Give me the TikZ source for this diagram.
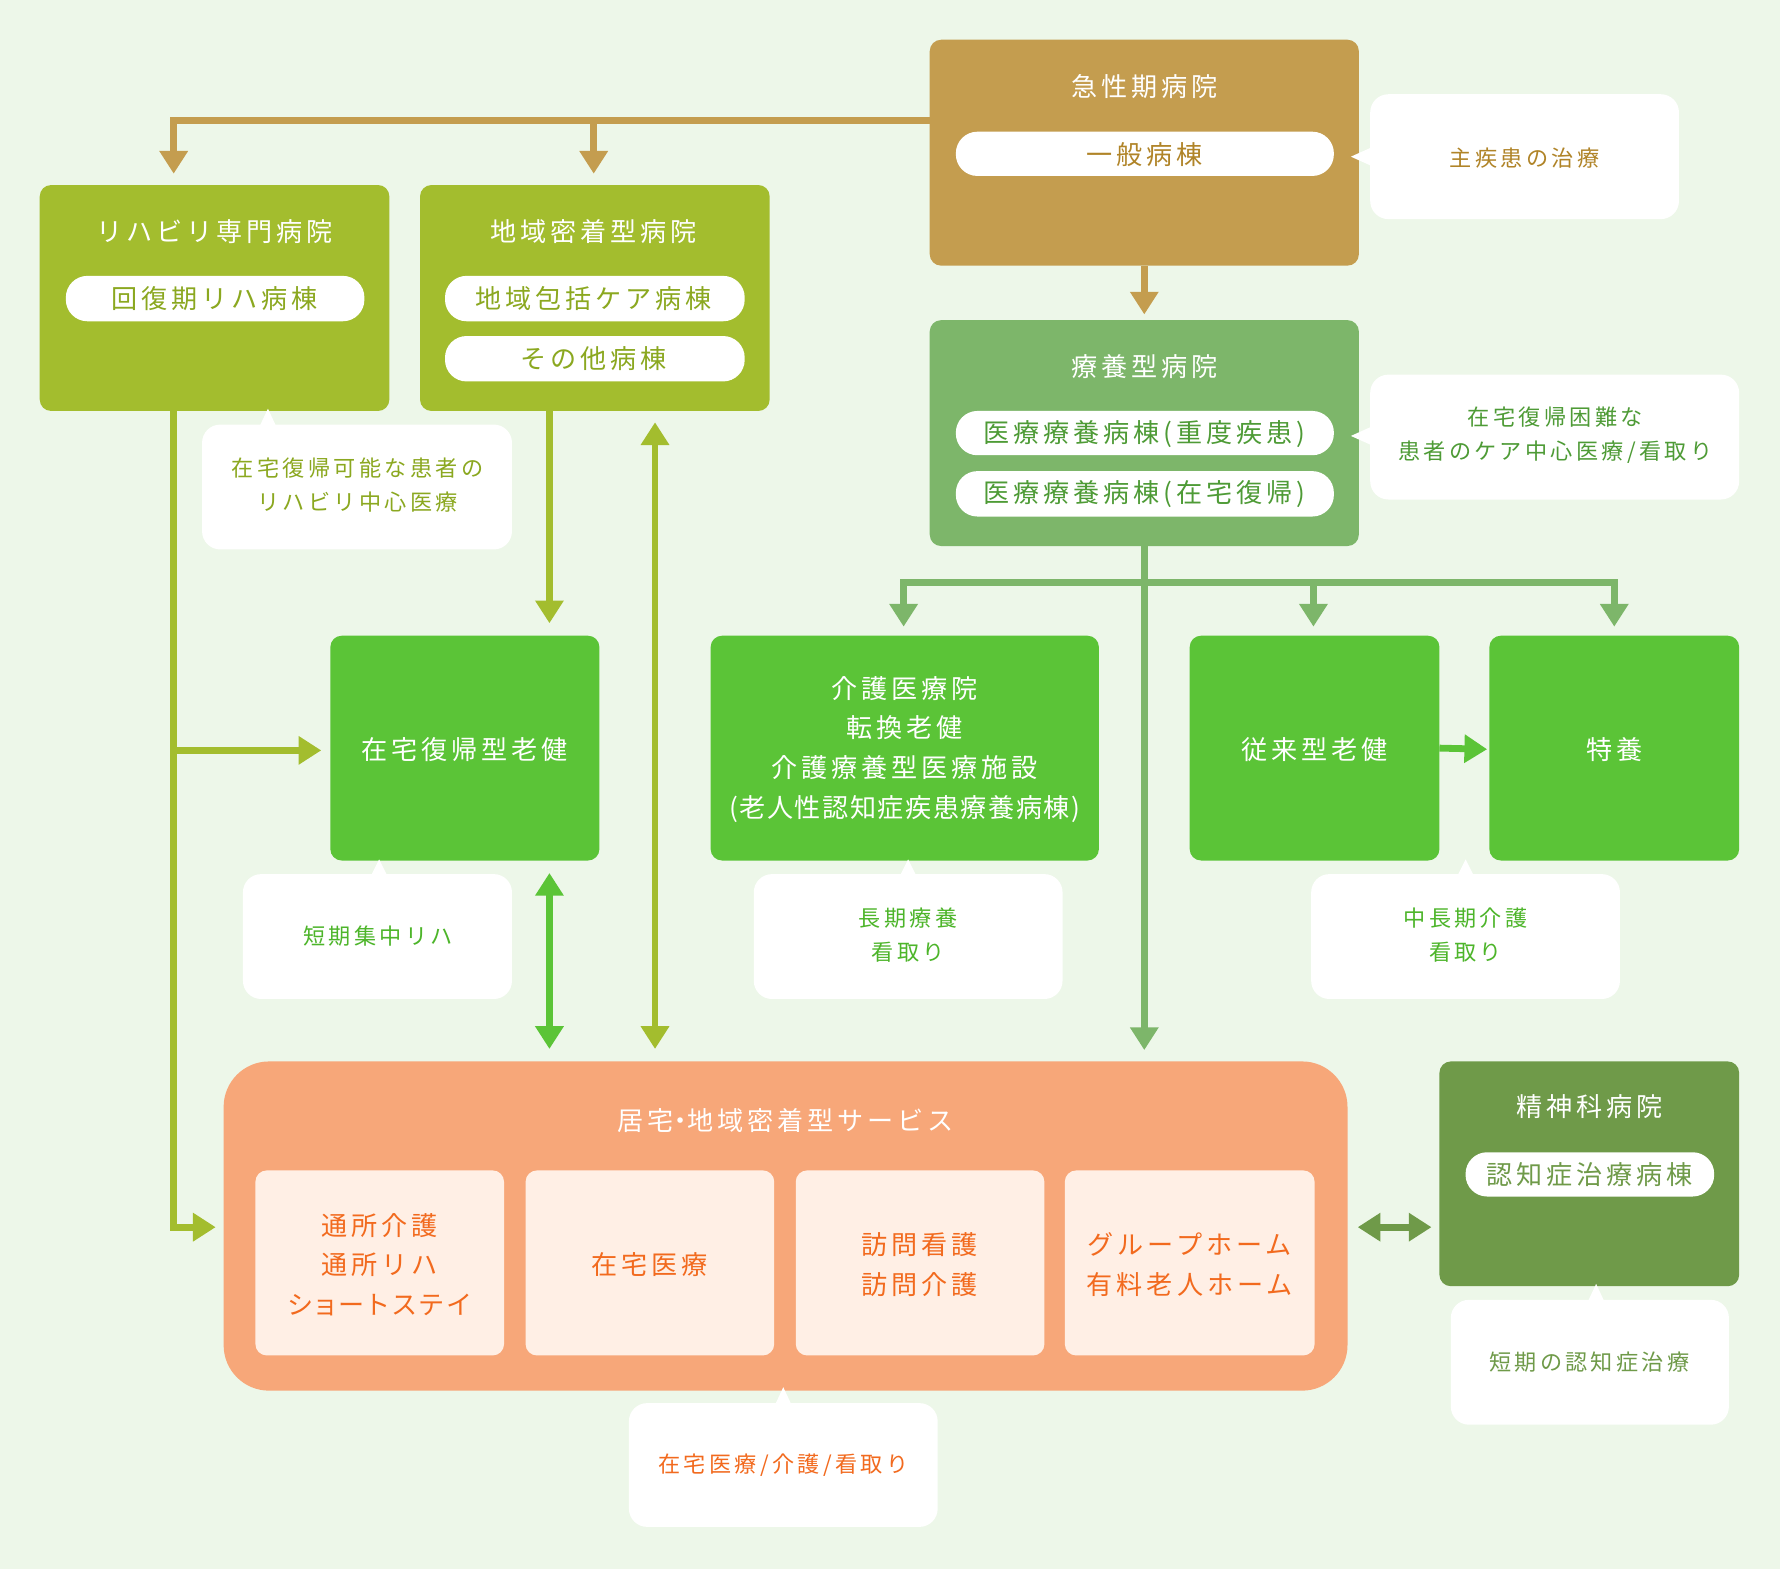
\documentclass[tikz,border=0pt]{standalone}
\usepackage{fontspec}
\setmainfont{Noto Sans CJK JP}[LetterSpace=15]
\newcommand\prop[1]{{\addfontfeatures{RawFeature=+palt}#1}}
\newcommand\tight[1]{{\addfontfeatures{LetterSpace=6}#1}}
\usetikzlibrary{arrows.meta,fit}
\definecolor{bg}{HTML}{EDF7E9}
\definecolor{tanc}{HTML}{C49D4F}
\definecolor{tantext}{HTML}{B08428}
\definecolor{ryoc}{HTML}{7DB66A}
\definecolor{ryotext}{HTML}{4E9B36}
\definecolor{olive}{HTML}{A3BD2E}
\definecolor{olivetext}{HTML}{8BA820}
\definecolor{brightg}{HTML}{5BC437}
\definecolor{brighttext}{HTML}{4DB52A}
\definecolor{orangebg}{HTML}{F7A779}
\definecolor{orangein}{HTML}{FFEFE5}
\definecolor{orangetext}{HTML}{F26A1E}
\definecolor{psyc}{HTML}{6F9A49}
\begin{document}
\begin{tikzpicture}[x=0.5pt,y=-0.5pt,
  tip/.tip={Triangle[width=12pt,length=10pt]},
  hbox/.style={rounded corners=5pt, inner sep=0pt, outer sep=0pt},
  pill/.style={fill=white, rounded corners=9.5pt, inner sep=0pt, outer sep=0pt},
  callout/.style={fill=white, rounded corners=8pt, inner sep=0pt, outer sep=0pt},
  big/.style={inner sep=0pt, align=center, font=\fontsize{11.5pt}{17.5pt}\selectfont},
  small/.style={inner sep=0pt, align=center, font=\fontsize{9.75pt}{15pt}\selectfont},
  conn/.style={line width=3pt},
]
\fill[bg] (0,0) rectangle (1568,1382);
\useasboundingbox (0,0) rectangle (1568,1382);

% ---------- boxes ----------
\node[hbox, fill=tanc, fit={(819,35)(1197,234)}] (acute) {};
\node[pill, fit={(842,116)(1175,155)}] (acuteP) {};
\node[big, text=white] (acuteT) at (1008,76) {急性期病院};
\node[big, text=tantext] (acutePT) at (1008,136) {一般病棟};

\node[hbox, fill=ryoc, fit={(819,282)(1197,481)}] (ryo) {};
\node[pill, fit={(842,362)(1175,401)}] (ryoP1) {};
\node[pill, fit={(842,415)(1175,455)}] (ryoP2) {};
\node[big, text=white] (ryoT) at (1008,323) {療養型病院};
\node[big, text=ryotext] (ryoP1T) at (1008,382) {医療療養病棟(重度疾患)};
\node[big, text=ryotext] (ryoP2T) at (1008,435) {医療療養病棟(在宅復帰)};

\node[hbox, fill=olive, fit={(35,163)(343,362)}] (reha) {};
\node[pill, fit={(58,243)(321,283)}] (rehaP) {};
\node[big, text=white] (rehaT) at (189,204) {リハビリ専門病院};
\node[big, text=olivetext] (rehaPT) at (189,263) {回復期リハ病棟};

\node[hbox, fill=olive, fit={(370,163)(678,362)}] (chiiki) {};
\node[pill, fit={(392,243)(656,283)}] (chiikiP1) {};
\node[pill, fit={(392,296)(656,336)}] (chiikiP2) {};
\node[big, text=white] (chiikiT) at (523,204) {地域密着型病院};
\node[big, text=olivetext] (chiikiP1T) at (523,263) {地域包括ケア病棟};
\node[big, text=olivetext] (chiikiP2T) at (523,316) {その他病棟};

\node[hbox, fill=brightg, fit={(291,560)(528,758)}] (roken) {};
\node[big, text=white] (rokenT) at (409,660) {在宅復帰型老健};

\node[hbox, fill=brightg, fit={(626,560)(968,758)}] (kaigo) {};
\node[big, text=white] (kaigoT) at (797,660) {介護医療院\\転換老健\\介護療養型医療施設\\\tight{(老人性認知症疾患療養病棟)}};

\node[hbox, fill=brightg, fit={(1048,560)(1268,758)}] (jurai) {};
\node[big, text=white] (juraiT) at (1158,660) {従来型老健};

\node[hbox, fill=brightg, fit={(1312,560)(1532,758)}] (tokuyo) {};
\node[big, text=white] (tokuyoT) at (1422,660) {特養};

\node[fill=orangebg, rounded corners=20pt, inner sep=0pt, outer sep=0pt, fit={(197,935)(1187,1225)}] (kyotaku) {};
\node[big, text=white] (kyotakuT) at (692,987) {居宅\prop{・}地域密着型サービス};
\node[hbox, fill=orangein, fit={(225,1031)(444,1194)}] (s1) {};
\node[hbox, fill=orangein, fit={(463,1031)(682,1194)}] (s2) {};
\node[hbox, fill=orangein, fit={(701,1031)(920,1194)}] (s3) {};
\node[hbox, fill=orangein, fit={(938,1031)(1158,1194)}] (s4) {};
\node[big, text=orangetext] (s1T) at (334,1114) {通所介護\\通所リハ\\\prop{ショートステイ}};
\node[big, text=orangetext] (s2T) at (572,1114) {在宅医療};
\node[big, text=orangetext] (s3T) at (810,1114) {訪問看護\\訪問介護};
\node[big, text=orangetext] (s4T) at (1048,1114) {グループホーム\\有料老人ホーム};

\node[hbox, fill=psyc, fit={(1268,935)(1532,1133)}] (psy) {};
\node[pill, fit={(1291,1015)(1510,1054)}] (psyP) {};
\node[big, text=white] (psyT) at (1400,975) {精神科病院};
\node[big, text=psyc] (psyPT) at (1400,1035) {認知症治療病棟};

% ---------- callouts ----------
\node[callout, fit={(1207,83)(1479,193)}] (c1) {};
\fill[white] (1210,129) -- (1190,138) -- (1210,147) -- cycle;
\node[small, text=tantext] (c1T) at (1343,139) {主疾患の治療};

\node[callout, fit={(1207,330)(1532,440)}] (c2) {};
\fill[white] (1210,375) -- (1190,384) -- (1210,393) -- cycle;
\node[small, text=ryotext] (c2T) at (1370,383) {在宅復帰困難な\\患者のケア中心医療/看取り};

\node[callout, fit={(178,374)(451,484)}] (c3) {};
\fill[white] (228,377) -- (236,360) -- (244,377) -- cycle;
\node[small, text=olivetext] (c3T) at (315,427) {在宅復帰可能な患者の\\リハビリ中心医療};

\node[callout, fit={(214,770)(451,880)}] (c4) {};
\fill[white] (326,773) -- (334,757) -- (342,773) -- cycle;
\node[small, text=brighttext] (c4T) at (333,825) {短期集中リハ};

\node[callout, fit={(664,770)(936,880)}] (c5) {};
\fill[white] (792,773) -- (800,757) -- (808,773) -- cycle;
\node[small, text=brighttext] (c5T) at (800,824) {長期療養\\看取り};

\node[callout, fit={(1155,770)(1427,880)}] (c6) {};
\fill[white] (1283,773) -- (1291,757) -- (1299,773) -- cycle;
\node[small, text=brighttext] (c6T) at (1291,824) {中長期介護\\看取り};

\node[callout, fit={(554,1236)(826,1345)}] (c7) {};
\fill[white] (682,1239) -- (690,1222) -- (698,1239) -- cycle;
\node[small, text=orangetext] (c7T) at (690,1291) {在宅医療/介護/看取り};

\node[callout, fit={(1278,1145)(1523,1255)}] (c8) {};
\fill[white] (1398,1148) -- (1406,1131) -- (1414,1148) -- cycle;
\node[small, text=psyc] (c8T) at (1400,1200) {短期の認知症治療};

% ---------- connectors ----------
\coordinate (tJ) at (819,106);
\coordinate (tB) at (523,106);
\coordinate (tipReha) at (153,153);
\coordinate (tipChiiki) at (523,153);
\draw[conn, tanc, -tip] (tJ) -| (tipReha);
\draw[conn, tanc, -tip] (tB) -- (tipChiiki);
\coordinate (tipRyo) at (1008,277);
\draw[conn, tanc, -tip] (acute.south) -- (tipRyo);

\coordinate (gJ) at (1008,513);
\coordinate (gJ2) at (1157,513);
\coordinate (tipKaigo) at (796,552);
\coordinate (tipJurai) at (1157,552);
\coordinate (tipToku) at (1422,552);
\coordinate (tipKyo1) at (1008,925);
\draw[conn, ryoc, -tip] (ryo.south) -- (tipKyo1);
\draw[conn, ryoc, -tip] (gJ) -| (tipKaigo);
\draw[conn, ryoc, -tip] (gJ) -| (tipToku);
\draw[conn, ryoc, -tip] (gJ2) -- (tipJurai);

\coordinate (oS) at (153,362);
\coordinate (oJ) at (153,661);
\coordinate (tipKyo2) at (190,1081);
\coordinate (tipRoken) at (283,661);
\draw[conn, olive, -tip] (oS) |- (tipKyo2);
\draw[conn, olive, -tip] (oJ) -- (tipRoken);
\coordinate (cS) at (484,362);
\coordinate (tipRoken2) at (484,549);
\draw[conn, olive, -tip] (cS) -- (tipRoken2);
\coordinate (dA) at (577,372);
\coordinate (dB) at (577,924);
\draw[conn, olive, tip-tip] (dA) -- (dB);

\coordinate (eA) at (484,769);
\coordinate (eB) at (484,924);
\draw[conn, brightg, tip-tip] (eA) -- (eB);

\coordinate (tipToku2) at (1310,660);
\draw[conn, brightg, -tip] (jurai.east) -- (tipToku2);

\coordinate (pA) at (1196,1081);
\coordinate (pB) at (1261,1081);
\draw[conn, psyc, tip-tip] (pA) -- (pB);
\end{tikzpicture}
\end{document}
